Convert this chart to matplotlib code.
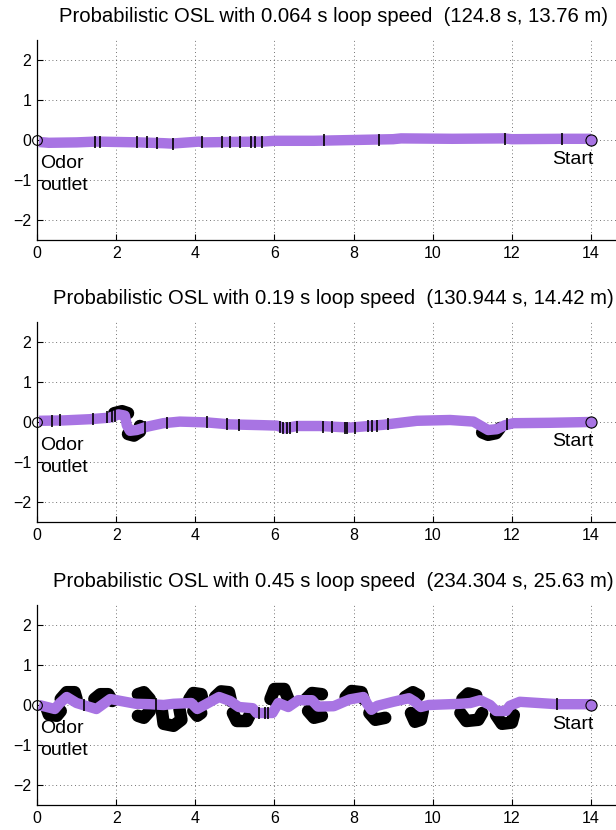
import matplotlib
matplotlib.use("Agg")
import matplotlib.pyplot as plt

plt.rcParams['font.family'] = ['Liberation Sans', 'DejaVu Sans']

PURPLE = '#a874e3'

titles = [
    "Probabilistic OSL with 0.064 s loop speed  (124.8 s, 13.76 m)",
    "Probabilistic OSL with 0.19 s loop speed  (130.944 s, 14.42 m)",
    "Probabilistic OSL with 0.45 s loop speed  (234.304 s, 25.63 m)",
]

x_ticks = [0, 2, 4, 6, 8, 10, 12, 14]
y_ticks = [-2, -1, 0, 1, 2]
start_xy = (14.0, 0.0)
outlet_xy = (0.0, 0.0)

# ---- run 1: 0.064 s loop ----
path1_x = [14.0, 13.3, 12.0, 11.8, 10.5, 9.2, 9.0, 8.0, 7.0, 6.0, 5.7, 4.8,
           4.2, 4.1, 3.4, 3.2, 2.6, 1.5, 1.0, 0.3, 0.05]
path1_y = [0.03, 0.03, 0.02, 0.04, 0.03, 0.04, 0.02, 0.0, -0.02, -0.02, -0.04,
           -0.05, -0.06, -0.04, -0.09, -0.08, -0.06, -0.04, -0.06, -0.07, -0.05]
stops1_x = [1.47, 1.59, 2.53, 2.78, 3.03, 3.44, 4.17, 4.67, 4.88, 5.13, 5.41,
            5.51, 5.68, 7.25, 8.64, 11.83, 13.27]
stops1_y = [-0.04, -0.04, -0.06, -0.06, -0.07, -0.09, -0.05, -0.05, -0.05,
            -0.04, -0.04, -0.04, -0.04, -0.01, 0.0, 0.03, 0.03]
loops1 = []

# ---- run 2: 0.19 s loop ----
path2_x = [13.98, 12.96, 12.04, 11.83, 11.62, 11.4, 11.03, 10.44, 9.6, 8.75,
           7.91, 7.15, 6.56, 6.27, 6.06, 5.72, 4.88, 4.29, 3.61, 3.19, 2.77,
           2.52, 2.35, 2.27, 2.22, 2.06, 1.84, 1.34, 0.67, 0.05]
path2_y = [0.0, -0.02, -0.03, -0.08, -0.18, -0.2, 0.01, 0.05, 0.03, -0.07,
           -0.14, -0.1, -0.1, -0.16, -0.09, -0.08, -0.06, -0.01, 0.01, -0.03,
           -0.12, -0.2, -0.22, -0.08, 0.16, 0.19, 0.11, 0.07, 0.04, 0.03]
stops2_x = [0.37, 0.58, 1.41, 1.78, 1.89, 1.97, 2.73, 3.28, 4.29, 4.79, 5.11,
            6.14, 6.22, 6.31, 6.39, 6.56, 7.22, 7.45, 7.78, 7.83, 8.04, 8.37,
            8.46, 8.58, 8.88, 11.87]
stops2_y = [0.03, 0.04, 0.07, 0.12, 0.14, 0.15, -0.12, -0.02, -0.01, -0.05,
            -0.07, -0.12, -0.14, -0.15, -0.15, -0.12, -0.12, -0.13, -0.14,
            -0.14, -0.14, -0.11, -0.1, -0.09, -0.05, -0.06]
loops2 = [
    [(1.95, 0.22), (2.15, 0.27), (2.3, 0.22)],
    [(2.3, -0.3), (2.45, -0.34), (2.6, -0.24), (2.6, -0.1)],
    [(11.25, -0.26), (11.4, -0.32), (11.6, -0.28), (11.7, -0.15)],
]

# ---- run 3: 0.45 s loop ----
path3_x = [14.0, 13.15, 12.2, 11.95, 11.85, 11.6, 11.45, 11.2, 10.95, 10.7,
           9.9, 9.7, 9.55, 9.4, 9.0, 8.6, 8.45, 8.35, 8.25, 7.9, 7.5, 7.1,
           6.95, 6.6, 6.35, 6.1, 5.95, 5.55, 5.45, 5.1, 4.88, 4.6, 4.05, 3.9,
           3.45, 3.2, 2.86, 2.5, 1.85, 1.5, 1.0, 0.75, 0.58, 0.45, 0.25, 0.05]
path3_y = [0.02, 0.02, 0.08, -0.02, -0.15, -0.15, 0.0, 0.12, 0.05, 0.03,
           0.0, -0.05, 0.08, 0.17, 0.08, -0.02, -0.12, 0.02, 0.2, 0.14, -0.03,
           -0.04, 0.12, 0.12, -0.05, 0.05, -0.2, -0.2, -0.08, -0.05, 0.1, 0.2,
           -0.1, 0.05, 0.03, 0.0, 0.02, 0.03, 0.15, -0.1, 0.05, 0.2, 0.05,
           -0.1, -0.05, 0.0]
stops3_x = [13.15, 5.6, 5.75, 5.85, 3.0, 1.2]
stops3_y = [0.02, -0.2, -0.2, -0.2, 0.02, 0.0]
loops3 = [
    [(0.25, -0.1), (0.3, -0.24), (0.5, -0.27), (0.6, -0.15)],
    [(0.6, 0.15), (0.75, 0.32), (0.95, 0.32), (1.0, 0.15)],
    [(1.45, 0.15), (1.6, 0.27), (1.8, 0.27), (1.9, 0.1)],
    [(2.55, 0.27), (2.7, 0.32), (2.85, 0.15), (2.85, -0.15), (2.7, -0.32), (2.55, -0.27)],
    [(3.15, -0.1), (3.2, -0.47), (3.45, -0.52), (3.65, -0.37), (3.6, -0.1)],
    [(3.85, 0.15), (3.95, 0.3), (4.15, 0.27), (4.2, 0.05)],
    [(3.95, -0.15), (4.05, -0.27), (4.15, -0.2)],
    [(4.5, 0.2), (4.65, 0.34), (4.85, 0.32), (4.9, 0.1)],
    [(4.95, -0.2), (5.05, -0.4), (5.3, -0.4), (5.4, -0.2)],
    [(5.9, 0.15), (6.0, 0.4), (6.25, 0.4), (6.35, 0.15)],
    [(6.8, 0.15), (6.95, 0.3), (7.2, 0.27)],
    [(6.85, -0.15), (7.0, -0.32), (7.2, -0.27)],
    [(7.8, 0.2), (7.95, 0.35), (8.2, 0.32), (8.25, 0.15)],
    [(8.4, -0.2), (8.55, -0.37), (8.8, -0.32)],
    [(9.45, -0.2), (9.55, -0.42), (9.7, -0.37), (9.75, -0.15)],
    [(9.3, 0.2), (9.5, 0.32), (9.65, 0.24)],
    [(10.75, 0.15), (10.9, 0.29), (11.1, 0.24)],
    [(10.7, -0.2), (10.85, -0.4), (11.15, -0.37), (11.25, -0.2)],
    [(11.6, -0.25), (11.75, -0.47), (12.0, -0.44), (12.05, -0.25)],
]

runs = [
    (path1_x, path1_y, stops1_x, stops1_y, loops1),
    (path2_x, path2_y, stops2_x, stops2_y, loops2),
    (path3_x, path3_y, stops3_x, stops3_y, loops3),
]

W, H = 616, 830
fig = plt.figure(figsize=(W / 100, H / 100), dpi=100)

left = 37 / W
width = 15 * 39.57 / W
height = 200 / H
bottoms = [(H - 240) / H, (H - 522) / H, (H - 805) / H]

for (px, py, sx, sy, loops), title, b in zip(runs, titles, bottoms):
    ax = fig.add_axes([left, b, width, height])
    ax.set_xlim(0, 15)
    ax.set_ylim(-2.5, 2.5)
    ax.set_xticks(x_ticks)
    ax.set_yticks(y_ticks)
    ax.tick_params(direction='in', length=4, width=0.8, labelsize=11.5,
                   top=False, right=False, pad=4)
    for s in ('top', 'right'):
        ax.spines[s].set_visible(False)
    for s in ('left', 'bottom'):
        ax.spines[s].set_linewidth(0.9)
    ax.grid(True, color='#444444', linestyle=(0, (1, 3.5)), linewidth=0.6)
    ax.set_axisbelow(True)

    for loop in loops:
        lx = [p[0] for p in loop]
        ly = [p[1] for p in loop]
        ax.plot(lx, ly, color='black', lw=9, solid_capstyle='round',
                solid_joinstyle='round', zorder=3)
    ax.plot(px, py, color=PURPLE, lw=7.5, solid_capstyle='butt',
            solid_joinstyle='round', zorder=4)
    ax.plot(sx, sy, linestyle='none', marker='|', markersize=8.5,
            markeredgewidth=1.2, color='black', zorder=5)

    ax.plot(*outlet_xy, marker='o', markersize=7, mfc='none', mec='black',
            mew=0.8, zorder=6, clip_on=False)
    ax.plot(*start_xy, marker='o', markersize=8, mfc=PURPLE, mec='black',
            mew=0.8, zorder=6, clip_on=False)

    ax.text(0.08, -0.38, "Odor\noutlet", fontsize=14, ha='left', va='top',
            linespacing=1.35)
    ax.text(13.53, -0.28, "Start", fontsize=14, ha='center', va='top')
    ax.set_title(title, fontsize=14.6, pad=13)

fig.savefig("out.png", dpi=100)
